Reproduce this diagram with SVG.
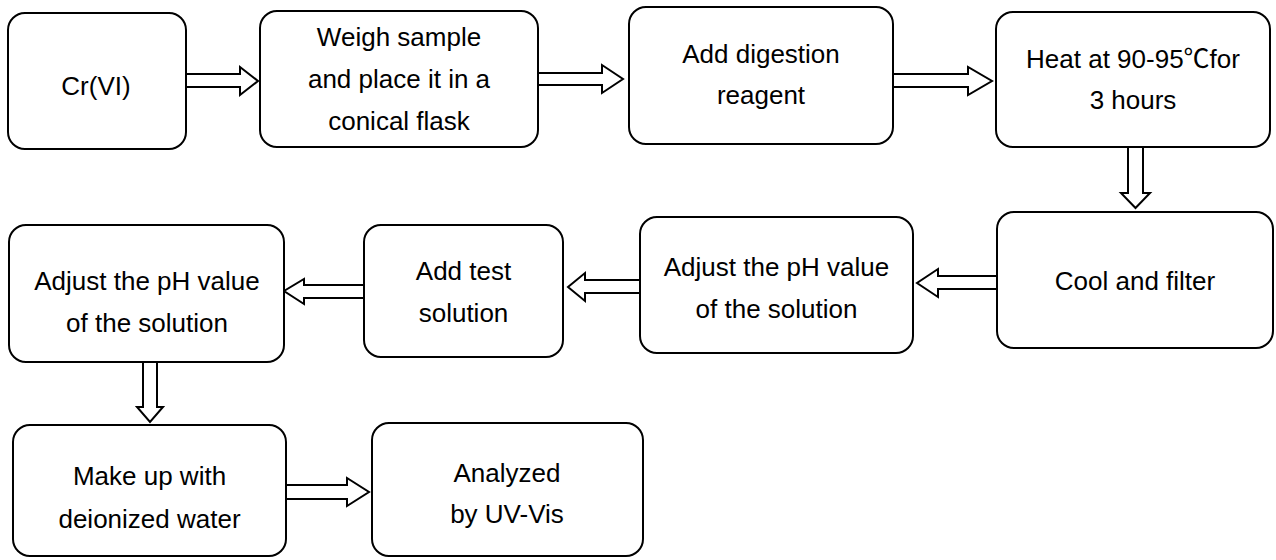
<svg xmlns="http://www.w3.org/2000/svg" width="1276" height="560" viewBox="0 0 1276 560">
<style>
.box{fill:#fff;stroke:#000;stroke-width:2}
.arr{fill:#fff;stroke:#000;stroke-width:2;stroke-linejoin:miter}
text{font-family:"Liberation Sans",Arial,"Noto Sans CJK SC",sans-serif;font-size:26px;fill:#000;text-anchor:middle}
</style>
<rect width="1276" height="560" fill="#fff"/>
<g id="connectors">
<polygon class="arr" points="186,74 240,74 240,67 258,81 240,95 240,87 186,87"/>
<polygon class="arr" points="538,73 602,73 602,65 623,79 602,93 602,85 538,85"/>
<polygon class="arr" points="893,74 968,74 968,67 992,81 968,95 968,87 893,87"/>
<polygon class="arr" points="1128,147 1128,193 1121,193 1135.5,208 1150,193 1143,193 1143,147"/>
<polygon class="arr" points="998,276 938,276 938,269 917,283 938,297 938,289 998,289"/>
<polygon class="arr" points="640,280 585,280 585,273 568,287 585,301 585,293 640,293"/>
<polygon class="arr" points="364,285 304,285 304,279 284,291 304,304 304,298 364,298"/>
<polygon class="arr" points="143,362 143,407 137,407 150,422 163,407 157,407 157,362"/>
<polygon class="arr" points="286,485 347,485 347,478 369,492 347,506 347,499 286,499"/>
</g>
<g id="n1"><rect class="box" x="8" y="13" width="178" height="136" rx="17"/><text x="96" y="95">Cr(VI)</text></g>
<g id="n2"><rect class="box" x="260" y="11" width="278" height="136" rx="17"/><text x="399" y="46">Weigh sample</text><text x="399" y="88">and place it in a</text><text x="399" y="130">conical flask</text></g>
<g id="n3"><rect class="box" x="629" y="7" width="264" height="137" rx="17"/><text x="761" y="63">Add digestion</text><text x="761" y="104">reagent</text></g>
<g id="n4"><rect class="box" x="996" y="12" width="274" height="135" rx="17"/><text x="1133" y="68">Heat at 90-95℃for</text><text x="1133" y="109">3 hours</text></g>
<g id="n5"><rect class="box" x="997" y="212" width="276" height="136" rx="17"/><text x="1135" y="290">Cool and filter</text></g>
<g id="n6"><rect class="box" x="640" y="217" width="273" height="136" rx="17"/><text x="776.5" y="276">Adjust the pH value</text><text x="776.5" y="318">of the solution</text></g>
<g id="n7"><rect class="box" x="364" y="225" width="199" height="132" rx="17"/><text x="463.5" y="280">Add test</text><text x="463.5" y="322">solution</text></g>
<g id="n8"><rect class="box" x="9" y="225" width="275" height="137" rx="17"/><text x="147" y="290">Adjust the pH value</text><text x="147" y="332">of the solution</text></g>
<g id="n9"><rect class="box" x="13" y="425" width="273" height="131" rx="17"/><text x="149.5" y="485">Make up with</text><text x="149.5" y="528">deionized water</text></g>
<g id="n10"><rect class="box" x="372" y="423" width="271" height="133" rx="17"/><text x="507" y="482">Analyzed</text><text x="507" y="523">by UV-Vis</text></g>
</svg>
